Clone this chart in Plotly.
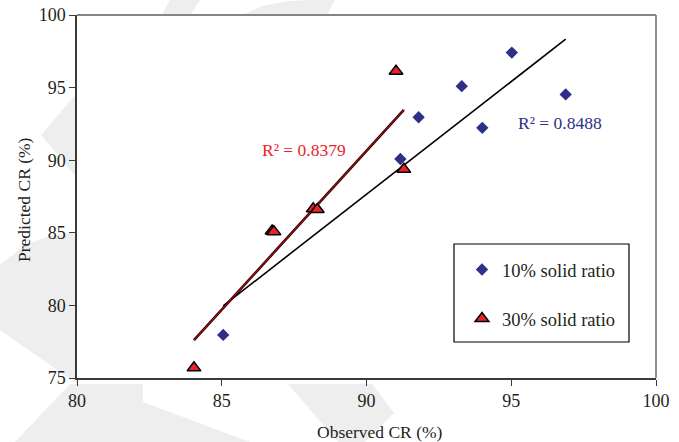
import numpy as np
import plotly.graph_objects as go

# ---- data ----
obs_10 = [85.05, 91.17, 91.80, 93.29, 94.00, 95.02, 96.88]
pred_10 = [77.97, 90.08, 92.96, 95.10, 92.23, 97.41, 94.53]
obs_30 = [84.04, 86.74, 86.80, 88.16, 88.30, 91.29, 91.02]
pred_30 = [75.70, 85.12, 85.08, 86.65, 86.60, 89.37, 96.13]
series_names = ["10% solid ratio", "30% solid ratio"]
r2_labels = ["R² = 0.8488", "R² = 0.8379"]
x_ticks = [80, 85, 90, 95, 100]
y_ticks = [75, 80, 85, 90, 95, 100]

FONT = "Liberation Serif"
BLUE = "#2E3087"
RED = "#E8232A"
TXT = "#231F20"

W, H = 679, 442
L, R, T, B = 77, 23, 15, 64
PW, PH = W - L - R, H - T - B


def px(x, y):
    return (x - L) / PW, (H - B - y) / PH


def path(points, closed=True):
    s = ""
    for i, (x, y) in enumerate(points):
        a, b = px(x, y)
        s += ("M" if i == 0 else "L") + f"{a:.4f},{b:.4f} "
    return s + ("Z" if closed else "")


def fit(xs, ys):
    k, c = np.polyfit(xs, ys, 1)
    xx = np.array([min(xs), max(xs)])
    return xx, k * xx + c


fig = go.Figure()

# trend lines
fx, fy = fit(obs_10, pred_10)
fig.add_trace(go.Scatter(x=fx, y=fy, mode="lines", line=dict(color="black", width=1.6),
                         showlegend=False, hoverinfo="skip"))
gx, gy = fit(obs_30, pred_30)
fig.add_trace(go.Scatter(x=gx, y=gy, mode="lines", line=dict(color="#2a0000", width=2.6),
                         showlegend=False, hoverinfo="skip"))
fig.add_trace(go.Scatter(x=gx, y=gy, mode="lines", line=dict(color="#D0101A", width=1.0),
                         showlegend=False, hoverinfo="skip"))

# points
fig.add_trace(go.Scatter(x=obs_10, y=pred_10, mode="markers", name=series_names[0],
                         legendgroup="a",
                         marker=dict(symbol="diamond", size=9.5, color=BLUE,
                                     line=dict(width=0))))
fig.add_trace(go.Scatter(x=obs_30, y=pred_30, mode="markers", name=series_names[1],
                         legendgroup="b",
                         marker=dict(symbol="triangle-up", size=12, color=RED,
                                     line=dict(width=1.5, color="black"))))

# watermark-like light shapes in the margins
wm = "#EEEEEE"
shapes = []
polys = [
    [(77, 93), (41, 135), (77, 178)],
    [(170, 0), (200, 0), (190, 15), (162, 15)],
    [(243, 15), (262, 6), (290, 1), (310, 0), (335, 0), (327, 15)],
    [(0, 265), (25, 245), (50, 236), (77, 232), (77, 384), (0, 330)],
    [(70, 384), (143, 384), (143, 402), (250, 442), (15, 442)],
    [(288, 384), (372, 384), (394, 413), (365, 442), (338, 442)],
]
for p in polys:
    shapes.append(dict(type="path", path=path(p), xref="paper", yref="paper",
                       fillcolor=wm, line=dict(width=0), layer="below"))
shapes.append(dict(type="rect", xref="paper", yref="paper", x0=0, y0=0, x1=1, y1=1,
                   fillcolor="white", line=dict(width=0), layer="below"))
# top and right frame lines
shapes.append(dict(type="line", xref="paper", yref="paper", x0=0, y0=1, x1=1, y1=1,
                   line=dict(color="#858585", width=1.8)))
shapes.append(dict(type="line", xref="paper", yref="paper", x0=1, y0=0, x1=1, y1=1,
                   line=dict(color="#858585", width=1.8)))
# legend box
bx0, by0 = px(454, 342)
bx1, by1 = px(629, 244)
shapes.append(dict(type="rect", xref="paper", yref="paper", x0=bx0, y0=by0, x1=bx1, y1=by1,
                   line=dict(color="black", width=1.2), fillcolor="rgba(0,0,0,0)"))

ann = []
ann.append(dict(x=96.69, y=92.57, xref="x", yref="y", text=r2_labels[0], showarrow=False,
                font=dict(family=FONT, size=17.5, color=BLUE)))
ann.append(dict(x=87.85, y=90.7, xref="x", yref="y", text=r2_labels[1], showarrow=False,
                font=dict(family=FONT, size=17.5, color=RED)))
ax, ay = px(380, 432)
ann.append(dict(x=ax, y=ay, xref="paper", yref="paper", text="Observed CR (%)", showarrow=False,
                xanchor="center", yanchor="middle", font=dict(family=FONT, size=17.5, color=TXT)))
bx, by = px(24, 200)
ann.append(dict(x=bx, y=by, xref="paper", yref="paper", text="Predicted CR (%)", showarrow=False,
                textangle=-90, xanchor="center", yanchor="middle",
                font=dict(family=FONT, size=17.5, color=TXT)))

lx, ly = px(462, 251)

axis_common = dict(showgrid=False, zeroline=False, showline=True, linecolor="#3a3a3a",
                   linewidth=1.5, ticks="outside", ticklen=6, tickwidth=1.2,
                   tickcolor="#3a3a3a", mirror=False, automargin=False,
                   tickfont=dict(family=FONT, size=18, color=TXT))

fig.update_layout(
    width=W, height=H,
    margin=dict(l=L, r=R, t=T, b=B, autoexpand=False),
    paper_bgcolor="white", plot_bgcolor="white",
    xaxis=dict(range=[80, 100], tickvals=x_ticks, **axis_common),
    yaxis=dict(range=[75, 100], tickvals=y_ticks, **axis_common),
    legend=dict(x=lx, y=ly, xanchor="left", yanchor="top", bgcolor="rgba(0,0,0,0)",
                borderwidth=0, tracegroupgap=22, traceorder="grouped",
                font=dict(family=FONT, size=18.5, color=TXT)),
    shapes=shapes, annotations=ann, showlegend=True,
)

fig.write_html("out.html")
